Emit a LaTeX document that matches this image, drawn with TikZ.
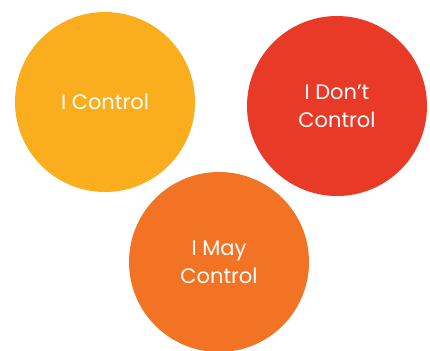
\documentclass[tikz,border=0pt]{standalone}
\usepackage{fontspec}
\setmainfont{Poppins}
\usepackage{tikz}
\definecolor{ctrlyellow}{HTML}{FBAE1D}
\definecolor{ctrlred}{HTML}{E93A28}
\definecolor{ctrlorange}{HTML}{F37324}
\tikzstyle{bubble}=[circle,draw=none,inner sep=0pt,minimum size=180pt,
                    text=white,align=center,
                    font=\fontsize{21}{28}\selectfont]

\begin{document}
\begin{tikzpicture}[x=1pt,y=-1pt]
    \useasboundingbox (0,0) rectangle (430,350);
    \clip (0,0) rectangle (430,350);
    \node (mine) at (105,102) [bubble,fill=ctrlyellow]{I Control};
    \node (notmine) at (337,106) [bubble,fill=ctrlred]{I Don’t\\Control};
    \node (maybe) at (219,262) [bubble,fill=ctrlorange]{I May\\Control};
  \end{tikzpicture}
\end{document}
